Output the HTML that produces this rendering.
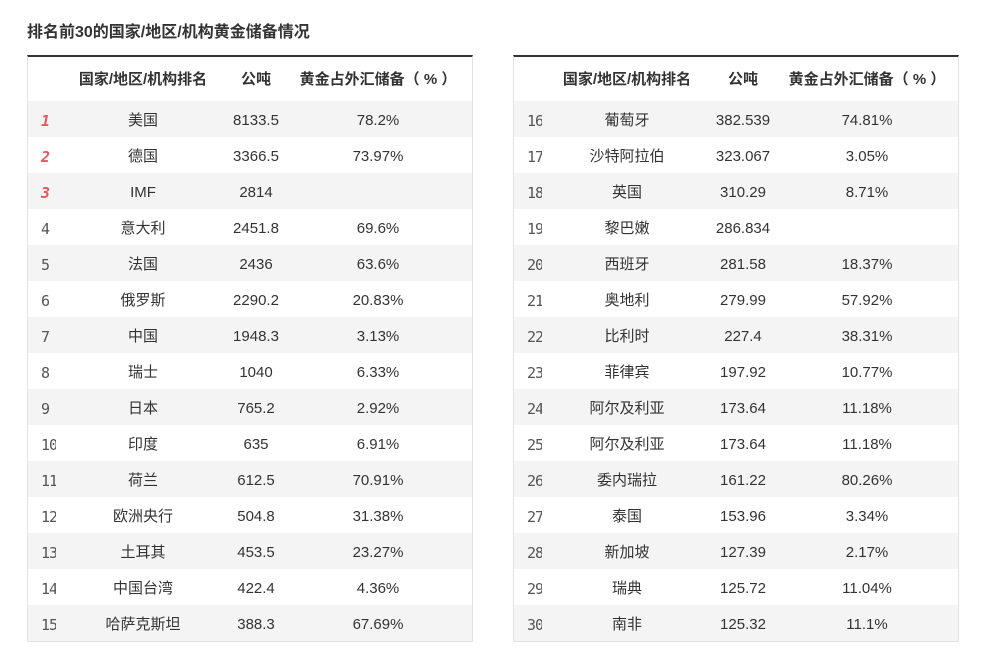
<!DOCTYPE html>
<html><head><meta charset="utf-8"><style>
body{margin:0;width:989px;height:651px;background:#fff;font-family:"Liberation Sans","Noto Sans CJK SC",sans-serif;color:#333;position:relative;overflow:hidden}
.t{position:absolute;left:27px;top:18px;font-size:16px;font-weight:bold;color:#333}
.tb{position:absolute;top:55px;width:446px;height:587px;border:1px solid #e3e3e3;border-top:2px solid #333;box-sizing:border-box}
.r{position:absolute;left:0;width:100%;height:36px}
.g{background:#f4f4f4}
.c{position:absolute;top:2px;line-height:36px;font-size:15px;text-align:center;transform:translateX(-50%);white-space:nowrap}
.h{font-weight:bold;line-height:44px;font-size:15px;top:1px}
.k{position:absolute;top:2px;line-height:36px;font-size:15px;left:13px;width:14px;overflow:hidden;white-space:nowrap;font-family:"DejaVu Sans Mono",monospace;color:#555;letter-spacing:-1px}
.red{color:#e8555a;font-style:italic;font-weight:bold}
</style></head><body>
<div class="t">排名前30的国家/地区/机构黄金储备情况</div>
<div class="tb" style="left:27px" id="L"></div>
<div class="tb" style="left:513px" id="R"></div>
<script>
var d=[["美国","8133.5","78.2%"],["德国","3366.5","73.97%"],["IMF","2814",""],["意大利","2451.8","69.6%"],["法国","2436","63.6%"],["俄罗斯","2290.2","20.83%"],["中国","1948.3","3.13%"],["瑞士","1040","6.33%"],["日本","765.2","2.92%"],["印度","635","6.91%"],["荷兰","612.5","70.91%"],["欧洲央行","504.8","31.38%"],["土耳其","453.5","23.27%"],["中国台湾","422.4","4.36%"],["哈萨克斯坦","388.3","67.69%"],
["葡萄牙","382.539","74.81%"],["沙特阿拉伯","323.067","3.05%"],["英国","310.29","8.71%"],["黎巴嫩","286.834",""],["西班牙","281.58","18.37%"],["奥地利","279.99","57.92%"],["比利时","227.4","38.31%"],["菲律宾","197.92","10.77%"],["阿尔及利亚","173.64","11.18%"],["阿尔及利亚","173.64","11.18%"],["委内瑞拉","161.22","80.26%"],["泰国","153.96","3.34%"],["新加坡","127.39","2.17%"],["瑞典","125.72","11.04%"],["南非","125.32","11.1%"]];
function build(id,off,cx){var h='<div class="c h" style="left:'+cx[0]+'px">国家/地区/机构排名</div><div class="c h" style="left:'+cx[1]+'px">公吨</div><div class="c h" style="left:'+cx[2]+'px">黄金占外汇储备（ % ）</div>';
for(var i=0;i<15;i++){var n=off+i+1,r=d[off+i];h+='<div class="r'+(i%2==0?' g':'')+'" style="top:'+(44+36*i)+'px"><div class="k'+(n<=3?' red':'')+'"'+(n>=10?' style="width:15px"':'')+'>'+n+'</div><div class="c" style="left:'+cx[0]+'px">'+r[0]+'</div><div class="c" style="left:'+cx[1]+'px">'+r[1]+'</div><div class="c" style="left:'+cx[2]+'px">'+r[2]+'</div></div>';}
document.getElementById(id).innerHTML=h;}
build("L",0,[115,228,350]);build("R",15,[113,229,353]);
</script>
</body></html>
